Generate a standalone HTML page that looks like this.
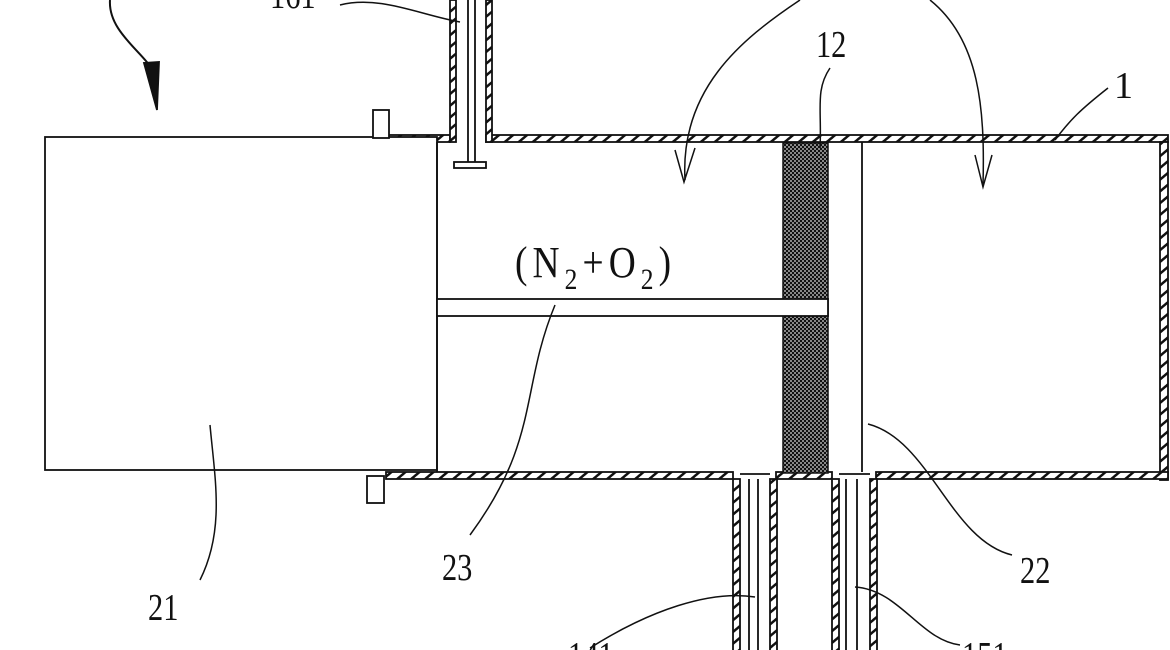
<!DOCTYPE html>
<html><head><meta charset="utf-8"><style>html,body{margin:0;padding:0;background:#fff}svg{display:block}</style></head>
<body>
<svg width="1170" height="650" viewBox="0 0 1170 650" xmlns="http://www.w3.org/2000/svg">
<defs>
<pattern id="h" width="9" height="9" patternUnits="userSpaceOnUse" patternTransform="rotate(50)">
<rect width="9" height="9" fill="#fff"/><rect width="2.5" height="9" fill="#111"/></pattern>
<pattern id="x" width="4" height="4" patternUnits="userSpaceOnUse">
<rect width="4" height="4" fill="#888"/><rect x="0" y="0" width="2" height="2" fill="#111"/><rect x="2" y="2" width="2" height="2" fill="#111"/></pattern>
</defs>
<g stroke="#111" stroke-width="1.8" fill="none">
<rect x="388" y="135" width="62" height="7" fill="url(#h)"/>
<rect x="486" y="135" width="682" height="7" fill="url(#h)"/>
<rect x="450" y="0" width="6" height="142" fill="url(#h)"/>
<rect x="486" y="0" width="6" height="142" fill="url(#h)"/>
<line x1="468" y1="0" x2="468" y2="162"/><line x1="475" y1="0" x2="475" y2="162"/>
<rect x="454" y="162" width="32" height="6" fill="#fff"/>
<rect x="1160" y="142" width="8" height="338" fill="url(#h)"/>
<rect x="386" y="472" width="347" height="7" fill="url(#h)"/>
<rect x="776" y="472" width="56" height="7" fill="url(#h)"/>
<rect x="876" y="472" width="292" height="7" fill="url(#h)"/>
<line x1="740" y1="474" x2="770" y2="474"/>
<line x1="839" y1="474" x2="870" y2="474"/>
<rect x="733" y="479" width="7" height="175" fill="url(#h)"/>
<rect x="770" y="479" width="7" height="175" fill="url(#h)"/>
<line x1="749" y1="479" x2="749" y2="650"/><line x1="758" y1="479" x2="758" y2="650"/>
<rect x="832" y="479" width="7" height="175" fill="url(#h)"/>
<rect x="870" y="479" width="7" height="175" fill="url(#h)"/>
<line x1="846" y1="479" x2="846" y2="650"/><line x1="857" y1="479" x2="857" y2="650"/>
<rect x="45" y="137" width="392" height="333" fill="#fff"/>
<line x1="437" y1="142" x2="437" y2="472"/>
<rect x="373" y="110" width="16" height="28" fill="#fff"/>
<rect x="367" y="476" width="17" height="27" fill="#fff"/>
<rect x="783" y="143" width="45" height="330" fill="url(#x)" stroke-width="1.5"/>
<rect x="437" y="299" width="391" height="17" fill="#fff"/>
<line x1="862" y1="142" x2="862" y2="472"/>
<path d="M110 0 C108 30 140 50 153 70" stroke-width="2"/>
<path d="M144 63 L157 110 L159 62 Z" fill="#111"/>
<path d="M340 5 C380 -5 420 15 460 22" stroke-width="1.5"/>
<path d="M800 0 C740 40 680 90 685 180" stroke-width="1.5"/>
<path d="M675 150 L684 182 L695 148" stroke-width="1.5"/>
<path d="M930 0 C980 40 985 110 983 185" stroke-width="1.5"/>
<path d="M975 155 L983 187 L992 155" stroke-width="1.5"/>
<path d="M830 68 C815 90 822 110 820 148" stroke-width="1.5"/>
<path d="M1108 88 C1080 110 1070 120 1055 140" stroke-width="1.5"/>
<path d="M555 305 C520 390 540 440 470 535" stroke-width="1.5"/>
<path d="M210 425 C215 480 225 530 200 580" stroke-width="1.5"/>
<path d="M868 424 C930 440 950 540 1012 555" stroke-width="1.5"/>
<path d="M590 648 C650 610 710 590 755 597" stroke-width="1.5"/>
<path d="M855 587 C900 590 920 640 960 645" stroke-width="1.5"/>
</g>
<g font-family="Liberation Serif, serif" fill="#111" font-size="38">
<text x="816" y="57" transform="translate(816 57) scale(0.8 1) translate(-816 -57)">12</text>
<text x="1114" y="98">1</text>
<text x="442" y="580" transform="translate(442 580) scale(0.8 1) translate(-442 -580)">23</text>
<text x="148" y="620" transform="translate(148 620) scale(0.8 1) translate(-148 -620)">21</text>
<text x="1020" y="583" transform="translate(1020 583) scale(0.8 1) translate(-1020 -583)">22</text>
<text x="568" y="668" transform="translate(568 668) scale(0.8 1) translate(-568 -668)">141</text>
<text x="962" y="668" transform="translate(962 668) scale(0.8 1) translate(-962 -668)">151</text>
<text x="270" y="8" transform="translate(270 8) scale(0.8 1) translate(-270 -8)">161</text>
<text x="515" y="277" font-size="44" letter-spacing="6" transform="translate(515 277) scale(0.85 1) translate(-515 -277)">(N<tspan font-size="30" dy="12">2</tspan><tspan dy="-12">+O</tspan><tspan font-size="30" dy="12">2</tspan><tspan dy="-12">)</tspan></text>
</g>
</svg>
</body></html>
